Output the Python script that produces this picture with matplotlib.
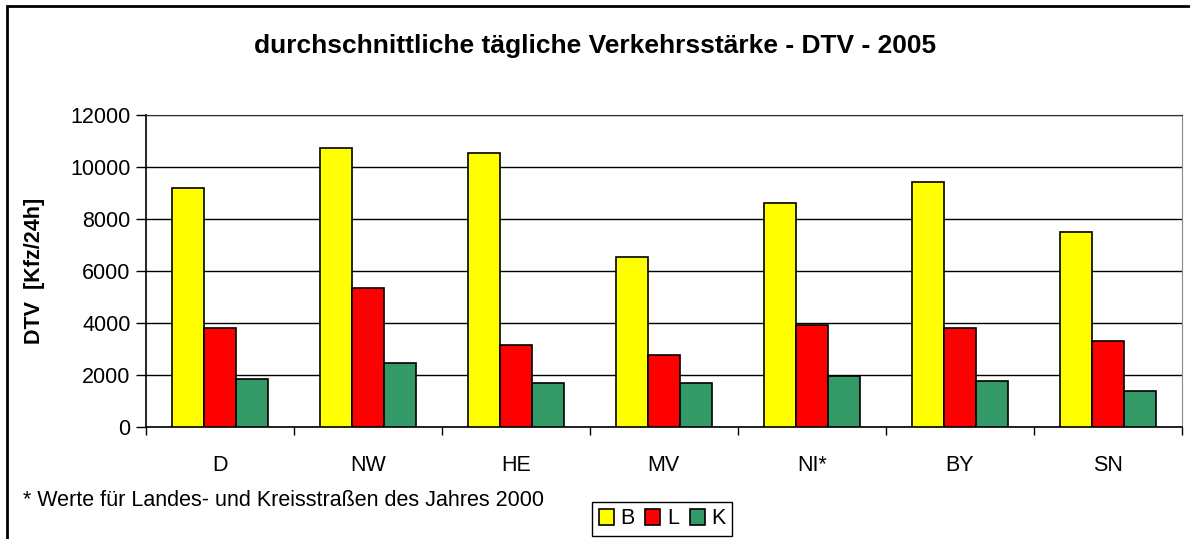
import matplotlib
matplotlib.use("Agg")
import matplotlib.pyplot as plt
import numpy as np
from matplotlib.patches import Rectangle

plt.rcParams['font.family'] = ['Liberation Sans', 'DejaVu Sans']

categories = ["D", "NW", "HE", "MV", "NI*", "BY", "SN"]
series_names = ["B", "L", "K"]
values_B = [9200, 10750, 10550, 6520, 8630, 9430, 7500]
values_L = [3800, 5330, 3150, 2760, 3940, 3810, 3300]
values_K = [1830, 2480, 1700, 1700, 1960, 1770, 1380]
colors = ["#FFFF00", "#FF0000", "#339966"]
yticks = [0, 2000, 4000, 6000, 8000, 10000, 12000]

W, H = 1190, 539
fig = plt.figure(figsize=(W / 100, H / 100), dpi=100)
ax = fig.add_axes([146 / W, 1 - 427 / H, (1181.7 - 146) / W, (427 - 115) / H])

FS = 15.5

x = np.arange(len(categories))
bw = 0.216
handles = []
for i, (vals, col, name) in enumerate(zip([values_B, values_L, values_K], colors, series_names)):
    h = ax.bar(x + (i - 1) * bw, vals, width=bw, color=col, edgecolor="black",
               linewidth=1.2, label=name, zorder=3)
    handles.append(h)

ax.set_xlim(-0.5, len(categories) - 0.5)
ax.set_ylim(0, 12000)
ax.set_yticks(yticks)
ax.set_yticklabels([str(v) for v in yticks], fontsize=FS)
ax.yaxis.grid(True, color="black", linewidth=1.0, zorder=0)
ax.set_xticks(x)
ax.set_xticklabels(categories, fontsize=FS)
ax.set_xticks(np.arange(-0.5, len(categories), 1.0), minor=True)
ax.tick_params(axis="x", which="major", length=0, pad=20)
ax.tick_params(axis="x", which="minor", length=6, width=1, direction="out")
ax.tick_params(axis="y", which="major", length=7, width=1, direction="out", pad=4)
for s in ["left", "bottom"]:
    ax.spines[s].set_color("black")
    ax.spines[s].set_linewidth(1.2)
ax.spines["top"].set_color("#333333")
ax.spines["right"].set_color("#888888")

ax.set_ylabel("DTV  [Kfz/24h]", fontsize=FS, fontweight="bold")
ax.yaxis.set_label_coords(-(146 - 45) / (1181.7 - 146), 0.5)

fig.text(0.5, 1 - 46 / H, "durchschnittliche tägliche Verkehrsstärke - DTV - 2005",
         ha="center", va="center", fontsize=19, fontweight="bold")
fig.text(23 / W, 1 - 500 / H, "* Werte für Landes- und Kreisstraßen des Jahres 2000",
         ha="left", va="center", fontsize=FS)

leg = fig.legend(handles=handles, labels=series_names, loc="center",
                 bbox_to_anchor=(662 / W, 1 - 519 / H), ncol=3, fontsize=FS,
                 frameon=True, fancybox=False, edgecolor="black", framealpha=1,
                 handlelength=0.7, handleheight=0.7, handletextpad=0.3,
                 columnspacing=0.5, borderpad=0.3, borderaxespad=0)
leg.get_frame().set_linewidth(1.0)

fig.patches.append(Rectangle((7 / W, -0.1), 1.2, 1 - 6 / H + 0.1,
                             transform=fig.transFigure, fill=False,
                             edgecolor="black", linewidth=2.0, zorder=10))

fig.savefig("out.png", dpi=100, facecolor="white")
